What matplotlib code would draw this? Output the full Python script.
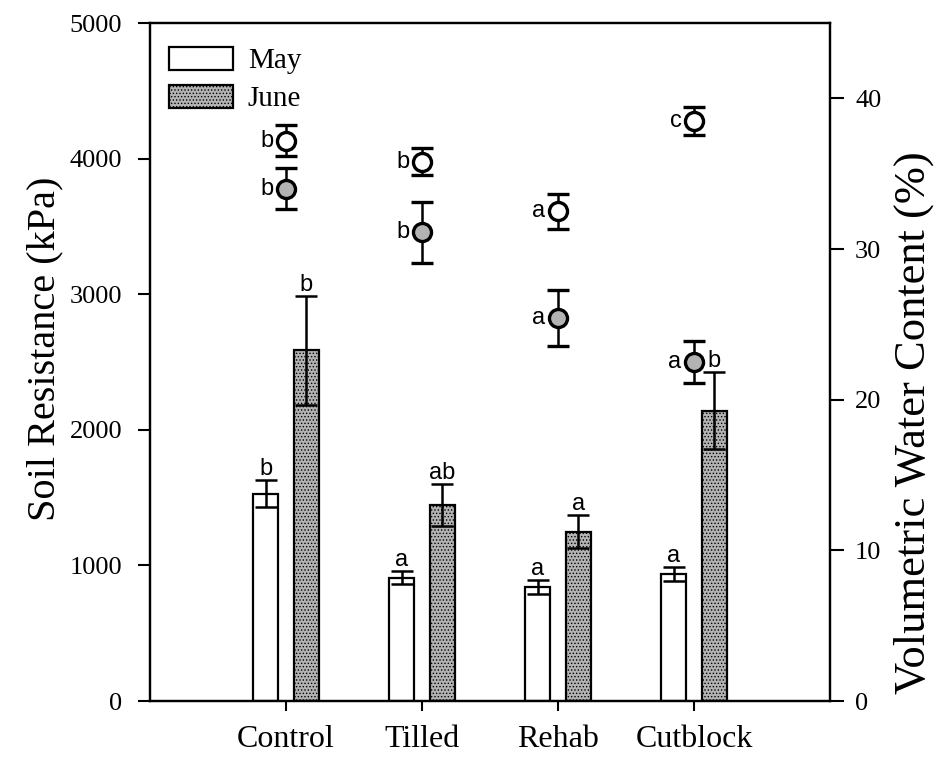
import numpy as np
import matplotlib
matplotlib.use("Agg")
from matplotlib import pyplot as plt

plt.rcParams['font.family'] = 'Liberation Serif'
plt.rcParams['hatch.color'] = '#8a8a8a'
plt.rcParams['hatch.linewidth'] = 0.6

sites = ["Control", "Tilled", "Rehab", "Cutblock"]

# soil resistance (kPa), bars
res_may = [1530, 910, 840, 935]
res_may_err = [100, 50, 52, 50]
res_june = [2585, 1445, 1250, 2140]
res_june_err = [400, 155, 120, 285]
res_may_lab = ["b", "a", "a", "a"]
res_june_lab = ["b", "ab", "a", "b"]

# volumetric water content (%), circles
vwc_may = [37.2, 35.8, 32.5, 38.5]
vwc_may_err = [1.0, 0.9, 1.15, 0.95]
vwc_june = [34.0, 31.1, 25.4, 22.5]
vwc_june_err = [1.35, 2.0, 1.85, 1.4]
vwc_may_lab = ["b", "b", "a", "c"]
vwc_june_lab = ["b", "b", "a", "a"]

x = np.arange(1, len(sites) + 1)
w = 0.18
off = 0.15
gray = '#b3b3b3'
lfs = 17

fig = plt.figure(figsize=(9.51, 7.63), dpi=100)
ax = fig.add_axes([150/951, 1 - 701/763, 680/951, 678/763])
ax2 = ax.twinx()

ekw = dict(ecolor='black', elinewidth=1.8, capsize=8, capthick=1.8, zorder=4)
ax.bar(x - off, res_may, w, color='white', edgecolor='black', linewidth=1.6,
       label='May', zorder=2)
ax.bar(x + off, res_june, w, color=gray, edgecolor='black', linewidth=1.6,
       hatch='.....', label='June', zorder=2)
ax.errorbar(x - off, res_may, yerr=res_may_err, fmt='none', **ekw)
ax.errorbar(x + off, res_june, yerr=res_june_err, fmt='none', **ekw)

for xi, v, e, t in zip(x - off, res_may, res_may_err, res_may_lab):
    ax.annotate(t, (xi, v + e), xytext=(0, 0), textcoords='offset points',
                ha='center', va='bottom', fontsize=lfs, family='Liberation Sans')
for xi, v, e, t in zip(x + off, res_june, res_june_err, res_june_lab):
    ax.annotate(t, (xi, v + e), xytext=(0, 0), textcoords='offset points',
                ha='center', va='bottom', fontsize=lfs, family='Liberation Sans')

ax2.errorbar(x, vwc_may, yerr=vwc_may_err, fmt='o', ms=13, mfc='white',
             mec='black', mew=2.4, ecolor='black', elinewidth=1.8, capsize=8,
             capthick=1.8, zorder=5)
ax2.errorbar(x, vwc_june, yerr=vwc_june_err, fmt='o', ms=13, mfc=gray,
             mec='black', mew=2.4, ecolor='black', elinewidth=1.8, capsize=8,
             capthick=1.8, zorder=5)
for xi, v, t in zip(x, vwc_may, vwc_may_lab):
    ax2.annotate(t, (xi, v), xytext=(-9, 0), textcoords='offset points',
                 ha='right', va='center', fontsize=lfs, family='Liberation Sans')
for xi, v, t in zip(x, vwc_june, vwc_june_lab):
    ax2.annotate(t, (xi, v), xytext=(-9, 0), textcoords='offset points',
                 ha='right', va='center', fontsize=lfs, family='Liberation Sans')

ax.set_xlim(0, 5)
ax.set_ylim(0, 5000)
ax2.set_ylim(0, 45)
ax.set_xticks(x)
ax.set_xticklabels(sites, fontsize=23)
ax.set_yticks(np.arange(0, 5001, 1000))
ax2.set_yticks(np.arange(0, 41, 10))
ax.tick_params(axis='y', direction='out', length=9, width=1.5, labelsize=19, pad=11)
ax.tick_params(axis='x', direction='out', length=7, width=1.5, pad=10)
ax2.tick_params(axis='y', direction='out', length=10, width=1.5, labelsize=19, pad=8)
for a in (ax, ax2):
    for s in a.spines.values():
        s.set_linewidth(1.6)

ax.set_ylabel("Soil Resistance (kPa)", fontsize=29)
ax.yaxis.set_label_coords(-0.128, 0.52)
ax2.set_ylabel("Volumetric Water Content (%)", fontsize=32)
ax2.yaxis.set_label_coords(1.093, 0.41)

ax.legend(loc='upper left', bbox_to_anchor=(0.0, 0.993), frameon=False,
          fontsize=21, handlelength=2.2, handleheight=0.85, borderaxespad=0.25,
          labelspacing=0.35, handletextpad=0.5)

fig.savefig("out.png", dpi=100)
